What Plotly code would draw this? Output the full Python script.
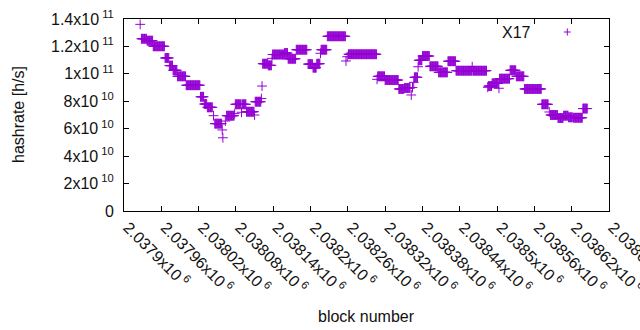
import plotly.graph_objects as go

# Runs of consecutive blocks sharing the same hashrate
run_start = [2037926, 2037928, 2037937, 2037947, 2037966, 2037973, 2037979, 2037986,
             2038000, 2038023, 2038029, 2038034, 2038044, 2038046, 2038058, 2038059,
             2038063, 2038065, 2038078, 2038079, 2038089, 2038090, 2038097, 2038110,
             2038111, 2038121, 2038122, 2038123, 2038132, 2038138, 2038139, 2038158,
             2038164, 2038177, 2038196, 2038204, 2038210, 2038216, 2038217, 2038227,
             2038257, 2038259, 2038261, 2038307, 2038308, 2038320, 2038342, 2038351,
             2038362, 2038364, 2038366, 2038367, 2038373, 2038374, 2038380, 2038392,
             2038406, 2038421, 2038434, 2038460, 2038461, 2038485, 2038486, 2038492,
             2038503, 2038504, 2038521, 2038531, 2038544, 2038572, 2038584, 2038586,
             2038598, 2038607, 2038615, 2038623, 2038638]
run_end = [2037926, 2037936, 2037946, 2037965, 2037972, 2037978, 2037985, 2037999,
           2038022, 2038028, 2038033, 2038042, 2038044, 2038057, 2038058, 2038059,
           2038063, 2038077, 2038078, 2038088, 2038089, 2038096, 2038109, 2038110,
           2038120, 2038121, 2038122, 2038131, 2038137, 2038138, 2038157, 2038163,
           2038176, 2038194, 2038203, 2038209, 2038215, 2038216, 2038226, 2038256,
           2038257, 2038259, 2038306, 2038307, 2038319, 2038341, 2038350, 2038360,
           2038362, 2038364, 2038366, 2038372, 2038373, 2038379, 2038391, 2038405,
           2038420, 2038433, 2038459, 2038460, 2038483, 2038485, 2038491, 2038502,
           2038503, 2038520, 2038530, 2038543, 2038571, 2038582, 2038584, 2038597,
           2038606, 2038614, 2038621, 2038637, 2038645]
run_hashrate_e10 = [13.61, 12.56, 12.42, 12.01, 11.16, 10.60, 10.26, 9.82,
                    9.17, 8.33, 7.80, 7.56, 6.95, 6.37, 5.91, 5.34,
                    6.56, 6.95, 7.10, 7.78, 7.20, 7.78, 7.24, 7.00,
                    7.97, 8.20, 9.11, 10.74, 10.62, 11.13, 11.41, 11.52,
                    11.10, 11.76, 10.71, 10.45, 10.74, 11.50, 11.76, 12.74,
                    10.94, 11.25, 11.43, 9.60, 9.82, 9.55, 8.90, 8.97,
                    8.46, 9.00, 9.38, 9.75, 10.52, 10.99, 11.30, 10.55,
                    10.11, 10.92, 10.23, 10.52, 10.23, 9.02, 9.11, 9.31,
                    8.95, 9.65, 10.26, 9.82, 8.90, 7.78, 7.22, 7.00,
                    6.78, 6.95, 6.83, 6.80, 7.47]

x_tickvals = [2037900, 2037960, 2038020, 2038080, 2038140, 2038200, 2038260,
              2038320, 2038380, 2038440, 2038500, 2038560, 2038620, 2038680]
x_ticklabels = ["2.0379", "2.03796", "2.03802", "2.03808", "2.03814", "2.0382",
                "2.03826", "2.03832", "2.03838", "2.03844", "2.0385", "2.03856",
                "2.03862", "2.03868"]
y_tickvals = [0, 2e10, 4e10, 6e10, 8e10, 1e11, 1.2e11, 1.4e11]
y_mant = ["0", "2", "4", "6", "8", "1", "1.2", "1.4"]
y_exp = ["", "10", "10", "10", "10", "11", "11", "11"]

blocks, hashrate = [], []
for s, e, v in zip(run_start, run_end, run_hashrate_e10):
    for b in range(s, e + 1):
        blocks.append(b)
        hashrate.append(v * 1e10)

COLOR = "#9400D3"
FONT = "Liberation Sans, Arial, sans-serif"
TXT = "#111"

fig = go.Figure()
fig.add_trace(go.Scatter(
    x=blocks, y=hashrate, mode="markers", name="X17", showlegend=False,
    marker=dict(symbol="cross-thin", size=7, line=dict(color=COLOR, width=1)),
))

ytext = [m if not ex else f"{m}x10<sup> {ex}</sup>" for m, ex in zip(y_mant, y_exp)]
xtext = [f"{t}x10<sup> 6</sup>" for t in x_ticklabels]

axis_common = dict(showline=True, linecolor="black", linewidth=1, mirror="ticks",
                   ticks="inside", ticklen=5, tickcolor="black", showgrid=False,
                   zeroline=False, tickfont=dict(family=FONT, size=16, color=TXT))

fig.update_xaxes(range=[2037900, 2038680], tickmode="array", tickvals=x_tickvals,
                 ticktext=xtext, tickangle=45, automargin=False,
                 ticklabelshift=4, ticklabeloverflow="allow", **axis_common)
fig.update_yaxes(range=[0, 1.4e11], tickmode="array", tickvals=y_tickvals,
                 ticktext=ytext, automargin=False, ticklabelstandoff=6,
                 ticklabeloverflow="allow", **axis_common)

# legend (gnuplot style: text then symbol)
L, R, T, B = 124, 609, 19, 211
W, H = R - L, B - T
def px(xp):
    return (xp - L) / W
def py(yp):
    return (B - yp) / H

annotations = [
    dict(text="X17", x=px(533), y=py(32), xref="paper", yref="paper",
         xanchor="right", yanchor="middle", showarrow=False,
         font=dict(family=FONT, size=16, color=TXT)),
    dict(text="block number", x=0.5, y=0, xref="paper", yref="paper",
         xanchor="center", yanchor="middle", yshift=-105, showarrow=False,
         font=dict(family=FONT, size=16, color=TXT)),
    dict(text="hashrate [h/s]", x=0, y=0.5, xref="paper", yref="paper",
         xanchor="center", yanchor="middle", xshift=-106, textangle=-90,
         showarrow=False, font=dict(family=FONT, size=16, color=TXT)),
]
cx, cy = 567.3, 32
shapes = [
    dict(type="line", xref="paper", yref="paper", x0=px(cx - 3.5), x1=px(cx + 3.5),
         y0=py(cy), y1=py(cy), line=dict(color=COLOR, width=1)),
    dict(type="line", xref="paper", yref="paper", x0=px(cx), x1=px(cx),
         y0=py(cy - 3.5), y1=py(cy + 3.5), line=dict(color=COLOR, width=1)),
]

fig.update_layout(
    width=640, height=330, margin=dict(l=L, r=640 - R, t=T, b=330 - B),
    paper_bgcolor="white", plot_bgcolor="white", showlegend=False,
    annotations=annotations, shapes=shapes,
    font=dict(family=FONT, size=16, color=TXT),
)

fig.write_html("out.html", config={"displayModeBar": False},
               post_script="document.body.style.margin='0';document.body.style.overflow='hidden';")
